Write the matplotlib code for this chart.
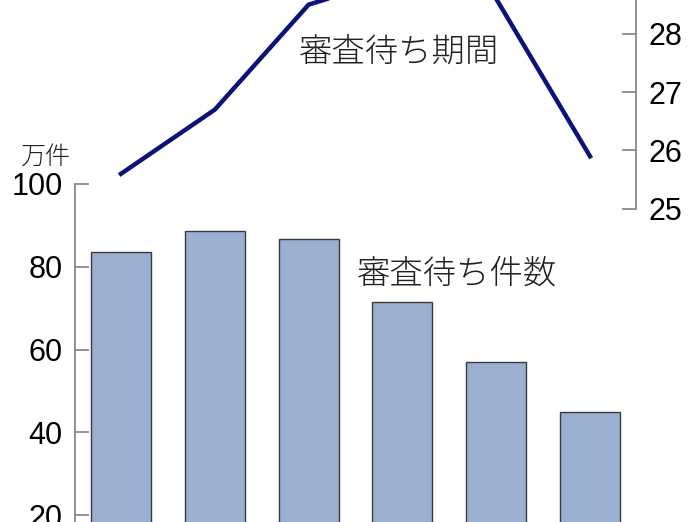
import matplotlib
matplotlib.use("Agg")
from matplotlib import pyplot as plt

# data
positions = [0, 1, 2, 3, 4, 5]
pending_counts = [83.5, 88.6, 86.7, 71.4, 57.1, 44.8]   # 万件
pending_months = [25.6, 26.7, 28.5, 29.0, 28.6, 25.9]   # 審査待ち期間
left_ticks = [20, 40, 60, 80, 100]
right_ticks = [25, 26, 27, 28]

jp = ['Noto Sans CJK JP', 'DejaVu Sans']
num_font = 'Liberation Sans'

plt.rcParams['font.family'] = jp

fig = plt.figure(figsize=(6.96, 5.22), dpi=100)
ax = fig.add_axes([75 / 696, 0, 561 / 696, 1])

ax.bar(positions, pending_counts, width=0.64, color='#9bafd0',
       edgecolor='#3a3a3a', linewidth=1.0, zorder=2)
ax.set_xlim(-0.49, 5.49)
ax.set_ylim(18.31, 144.47)
ax.set_xticks([])
ax.set_yticks(left_ticks)
ax.set_yticklabels([str(t) for t in left_ticks], family=num_font, fontsize=22)
ax.tick_params(axis='y', direction='in', length=10, width=1.2, color='#808080', pad=9)
for s in ['top', 'right', 'bottom']:
    ax.spines[s].set_visible(False)
ax.spines['left'].set_color('#808080')
ax.spines['left'].set_linewidth(1.2)
ax.spines['left'].set_bounds(0, 100)

ax2 = ax.twinx()
ax2.plot(positions, pending_months, color='#0c1277', linewidth=3.2,
         solid_joinstyle='miter', zorder=3)
ax2.set_ylim(19.63, 28.58)
ax2.set_yticks(right_ticks)
ax2.set_yticklabels([str(t) for t in right_ticks], family=num_font, fontsize=22)
ax2.tick_params(axis='y', direction='in', length=10, width=1.2, color='#808080', pad=9)
for s in ['top', 'left', 'bottom']:
    ax2.spines[s].set_visible(False)
ax2.spines['right'].set_color('#808080')
ax2.spines['right'].set_linewidth(1.2)
ax2.spines['right'].set_bounds(25, 40)

fig.text(46 / 696, 1 - 156 / 522, '万件', fontsize=18, ha='center', va='center',
         color='#222222', fontweight='light')
fig.text(399 / 696, 1 - 52 / 522, '審査待ち期間', fontsize=24, ha='center', va='center',
         color='#222222', fontweight='light')
fig.text(457 / 696, 1 - 274 / 522, '審査待ち件数', fontsize=24, ha='center', va='center',
         color='#222222', fontweight='light')

fig.savefig('out.png', dpi=100)
